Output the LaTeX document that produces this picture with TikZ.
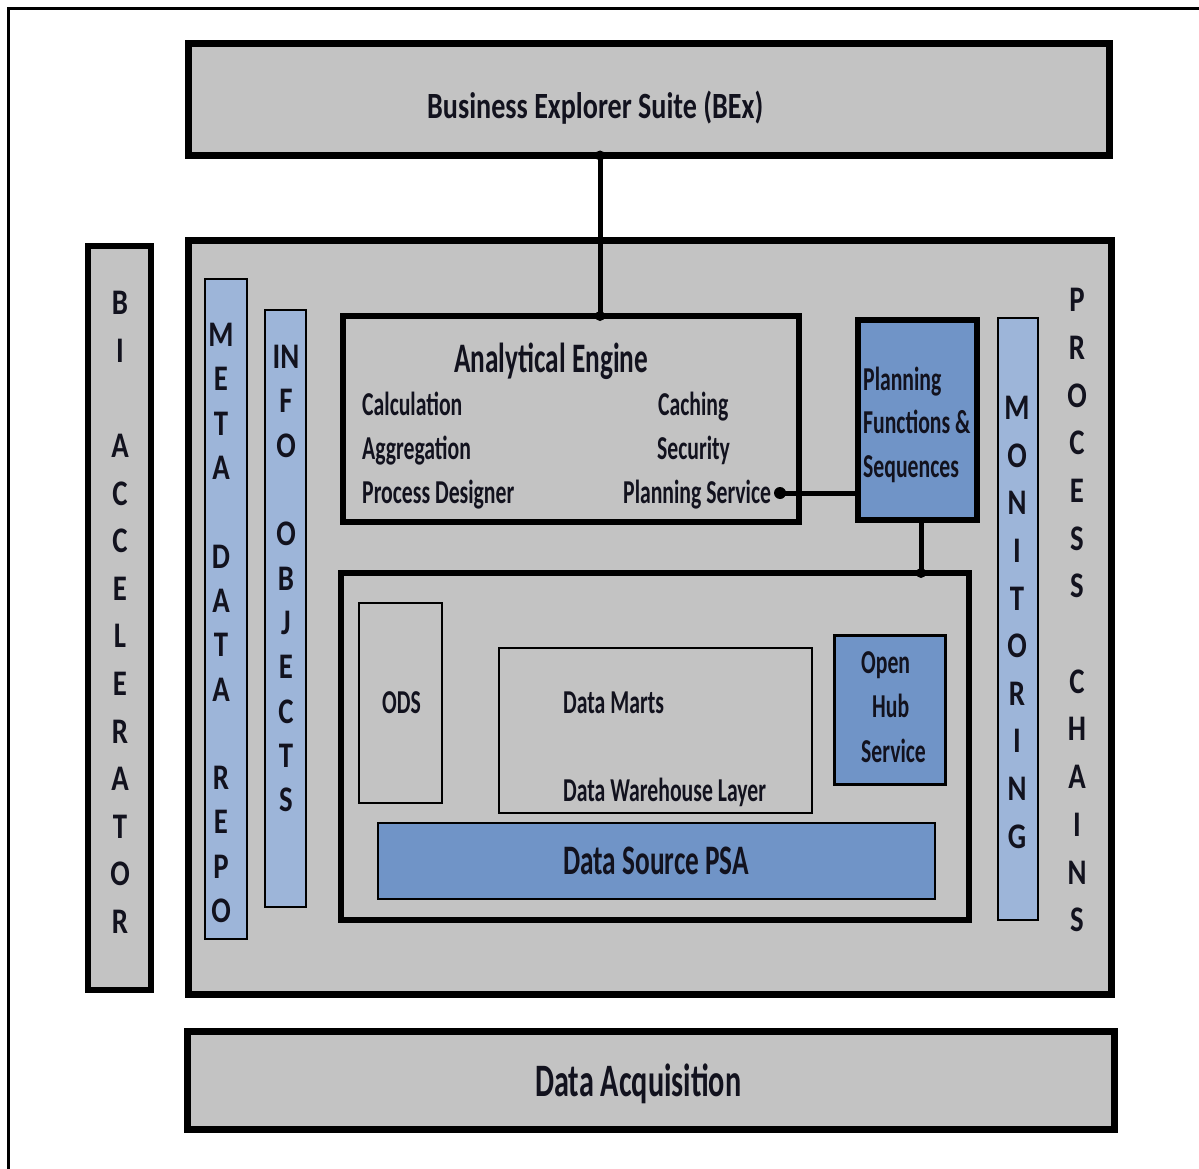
\documentclass[tikz,border=0pt]{standalone}
\usepackage{fontspec}
\newfontfamily\cf{Carlito}[FakeStretch=0.65]
\newfontfamily\cfb{Carlito}[FakeStretch=0.76]
\newfontfamily\cfl{Carlito}[FakeStretch=0.80]
\definecolor{boxgray}{RGB}{195,195,195}
\definecolor{ltblue}{RGB}{157,181,217}
\definecolor{dkblue}{RGB}{112,148,199}
\definecolor{txt}{RGB}{18,18,30}
\begin{document}
\begin{tikzpicture}[x=1pt,y=-1pt,
  box/.style={draw=black, fill=boxgray, inner sep=0pt, outer sep=0pt, anchor=north west},
  heavy/.style={box, line width=7pt},
  medium/.style={box, line width=6pt},
  thin/.style={box, line width=2pt},
  lblue/.style={thin, fill=ltblue},
  dblue/.style={fill=dkblue},
  lbl/.style={text=txt, inner sep=0pt, anchor=base west, font=\cf\bfseries\fontsize{33.4}{38}\selectfont},
  vlet/.style={text=txt, inner sep=0pt, anchor=center, font=\cfl\bfseries\fontsize{36}{40}\selectfont},
  conn/.style={draw=black, line width=5pt},
  jdot/.style={fill=black},
]
\path[fill=white] (0,0) rectangle (1199,1169);
\useasboundingbox (0,0) rectangle (1199,1169);
% outer frame (cropped)
\draw[line width=3pt] (8,1180) -- (8,9) -- (1210,9);

% boxes
\node[heavy, minimum width=921pt, minimum height=112pt] (bex) at (188.5,43.5) {};
\node[heavy, minimum width=923pt, minimum height=754pt] (core) at (188.5,240.5) {};
\node[medium, minimum width=63pt, minimum height=744pt] (bia) at (88,246) {};
\node[lblue, minimum width=42pt, minimum height=660pt] (meta) at (205,279) {};
\node[lblue, minimum width=41pt, minimum height=597pt] (info) at (265,310) {};
\node[medium, minimum width=456pt, minimum height=206pt] (ae) at (343,316) {};
\node[medium, dblue, minimum width=119pt, minimum height=200pt] (pf) at (858,320) {};
\node[lblue, minimum width=40pt, minimum height=602pt] (mon) at (998,318) {};
\node[medium, minimum width=628pt, minimum height=347pt] (dw) at (341,573) {};
\node[thin, minimum width=83pt, minimum height=200pt] (ods) at (359,603) {};
\node[thin, minimum width=313pt, minimum height=165pt] (dm) at (499,648) {};
\node[box, line width=3pt, dblue, minimum width=111pt, minimum height=149pt] (ohs) at (834.5,635.5) {};
\node[thin, dblue, minimum width=557pt, minimum height=76pt] (psa) at (378,823) {};
\node[heavy, minimum width=927pt, minimum height=98pt] (da) at (187.5,1031.5) {};

% texts
\node[lbl, font=\cfb\bfseries\fontsize{37}{42}\selectfont] (bext) at (427,119) {Business Explorer Suite (BEx)};
\node[lbl, font=\cf\bfseries\fontsize{42}{46}\selectfont] (aet) at (454,372) {Analytical Engine};
\node[lbl] (calc) at (362,415) {Calculation};
\node[lbl] (aggr) at (362,459) {Aggregation};
\node[lbl] (prd) at (362,503) {Process Designer};
\node[lbl] (cach) at (658,415) {Caching};
\node[lbl] (secu) at (657,459) {Security};
\node[lbl] (plsv) at (623,503) {Planning Service};
\node[lbl] (pf1) at (863,390) {Planning};
\node[lbl] (pf2) at (863,433) {Functions \&};
\node[lbl] (pf3) at (863,477) {Sequences};
\node[lbl] (odst) at (382,713) {ODS};
\node[lbl] (dmt) at (563,713) {Data Marts};
\node[lbl] (dwl) at (563,801) {Data Warehouse Layer};
\node[lbl] (oh1) at (861,673) {Open};
\node[lbl] (oh2) at (872,717) {Hub};
\node[lbl] (oh3) at (861,762) {Service};
\node[lbl, font=\cf\bfseries\fontsize{42}{46}\selectfont] (psat) at (563,874) {Data Source PSA};
\node[lbl, font=\cf\bfseries\fontsize{46.5}{50}\selectfont] (dat) at (535,1096) {Data Acquisition};

% vertical letters
\foreach \l/\i in {B/0,I/1,A/3,C/4,C/5,E/6,L/7,E/8,R/9,A/10,T/11,O/12,R/13}
  \node[vlet] (bi\i) at (120,303+\i*47.6) {\l};
\foreach \l/\i in {M/0,E/1,T/2,A/3,D/5,A/6,T/7,A/8,R/10,E/11,P/12,O/13}
  \node[vlet] (md\i) at (221,335+\i*44.3) {\l};
\foreach \l/\i in {IN/0,F/1,O/2,O/4,B/5,J/6,E/7,C/8,T/9,S/10}
  \node[vlet] (io\i) at (286,357+\i*44.3) {\l};
\foreach \l/\i in {M/0,O/1,N/2,I/3,T/4,O/5,R/6,I/7,N/8,G/9}
  \node[vlet] (mo\i) at (1017,408+\i*47.6) {\l};
\foreach \l/\i in {P/0,R/1,O/2,C/3,E/4,S/5,S/6,C/8,H/9,A/10,I/11,N/12,S/13}
  \node[vlet] (pc\i) at (1077,300+\i*47.7) {\l};

% connectors
\coordinate (xa) at (600,0);
\coordinate (xb) at (921,0);
\coordinate (psd) at (780,493);
\draw[conn] (bex.south -| xa) -- (ae.north -| xa);
\fill[jdot] (bex.south -| xa) circle (5);
\fill[jdot] (ae.north -| xa) circle (5);
\draw[conn] (psd) -- (psd -| pf.west);
\fill[jdot] (psd) circle (6);
\draw[conn] (pf.south -| xb) -- (dw.north -| xb);
\fill[jdot] (dw.north -| xb) circle (5);
\end{tikzpicture}
\end{document}
